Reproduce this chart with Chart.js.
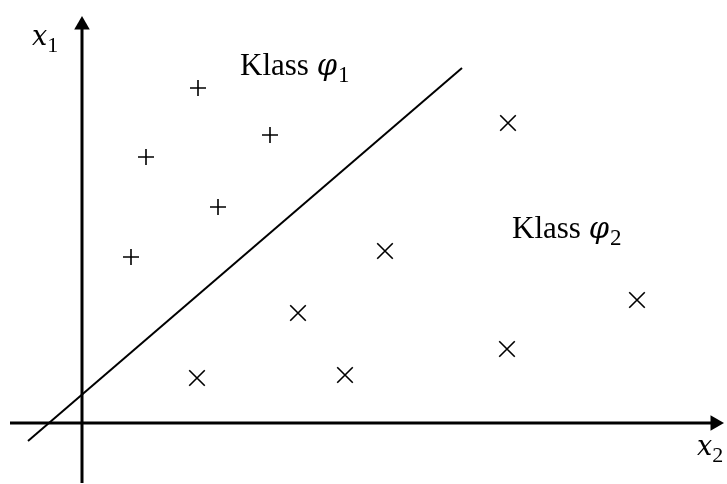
<!DOCTYPE html>
<html>
<head>
<meta charset="utf-8">
<script src="https://cdn.jsdelivr.net/npm/chart.js@4.4.1/dist/chart.umd.min.js"></script>
<style>
  html, body { margin: 0; padding: 0; background: #fff; }
  #c { display: block; }
</style>
</head>
<body>
<canvas id="c" width="727" height="484"></canvas>
<script>
// class 1 points (+)
var plusX = [11.6, 18.8, 6.4, 13.6, 4.9];
var plusY = [33.5, 28.8, 26.6, 21.6, 16.6];
// class 2 points (x)
var crossX = [42.6, 30.3, 21.6, 55.5, 11.5, 26.3, 42.5];
var crossY = [30.0, 17.2, 11.0, 12.3, 4.5, 4.8, 7.4];
// separating line
var sepX = [-5.4, 38.0];
var sepY = [-1.8, 35.5];
// axes
var axisX = [-7.2, 63.3];
var axisY = [-6.0, 39.8];
var labels = [
  { text: 'Klass ', sym: 'φ', sub: '1', x: 15.8, y: 34.8 },
  { text: 'Klass ', sym: 'φ', sub: '2', x: 43.0, y: 18.5 }
];
var axisLabels = [
  { sym: 'x', sub: '1', x: -5.0, y: 37.8 },
  { sym: 'x', sub: '2', x: 61.5, y: -3.2 }
];

function pts(xs, ys) {
  var out = [];
  for (var i = 0; i < xs.length; i++) out.push({ x: xs[i], y: ys[i] });
  return out;
}

var textPlugin = {
  id: 'texts',
  afterDraw: function (chart) {
    var ctx = chart.ctx;
    var sx = chart.scales.x, sy = chart.scales.y;
    ctx.save();
    ctx.fillStyle = '#000';
    ctx.textBaseline = 'alphabetic';
    labels.forEach(function (l) {
      var px = sx.getPixelForValue(l.x), py = sy.getPixelForValue(l.y);
      ctx.font = '31px "Liberation Serif", "Times New Roman", serif';
      ctx.fillText(l.text, px, py);
      px += ctx.measureText(l.text).width;
      ctx.font = 'italic 29px "DejaVu Serif", "Liberation Serif", serif';
      ctx.fillText(l.sym, px, py);
      px += ctx.measureText(l.sym).width + 1;
      ctx.font = '23px "Liberation Serif", serif';
      ctx.fillText(l.sub, px, py + 7);
    });
    axisLabels.forEach(function (l) {
      var px = sx.getPixelForValue(l.x), py = sy.getPixelForValue(l.y);
      ctx.font = 'italic 27px "DejaVu Serif", "Liberation Serif", serif';
      ctx.fillText(l.sym, px, py);
      px += ctx.measureText(l.sym).width;
      ctx.font = '22px "Liberation Serif", serif';
      ctx.fillText(l.sub, px, py + 7);
    });
    ctx.restore();
  }
};

new Chart(document.getElementById('c'), {
  type: 'scatter',
  data: {
    datasets: [
      {
        data: [{ x: axisX[0], y: 0 }, { x: axisX[1], y: 0 }],
        showLine: true, borderColor: '#000', borderWidth: 3,
        pointRadius: [0, 9], pointStyle: 'triangle', pointRotation: 90,
        backgroundColor: '#000', pointBorderWidth: 0
      },
      {
        data: [{ x: 0, y: axisY[0] }, { x: 0, y: axisY[1] }],
        showLine: true, borderColor: '#000', borderWidth: 3,
        pointRadius: [0, 9], pointStyle: 'triangle', pointRotation: 0,
        backgroundColor: '#000', pointBorderWidth: 0
      },
      {
        data: pts(sepX, sepY),
        showLine: true, borderColor: '#000', borderWidth: 2, pointRadius: 0
      },
      {
        data: pts(plusX, plusY),
        pointStyle: 'cross', pointRadius: 8, borderColor: '#000', pointBorderWidth: 1.6
      },
      {
        data: pts(crossX, crossY),
        pointStyle: 'crossRot', pointRadius: 11, borderColor: '#000', pointBorderWidth: 1.6
      }
    ]
  },
  options: {
    responsive: false,
    animation: false,
    devicePixelRatio: 1,
    layout: { padding: 0, autoPadding: false },
    plugins: { legend: { display: false }, tooltip: { enabled: false } },
    scales: {
      x: { type: 'linear', display: false, min: -8.2, max: 64.5 },
      y: { type: 'linear', display: false, min: -6.1, max: 42.3 }
    }
  },
  plugins: [textPlugin]
});
</script>
</body>
</html>
